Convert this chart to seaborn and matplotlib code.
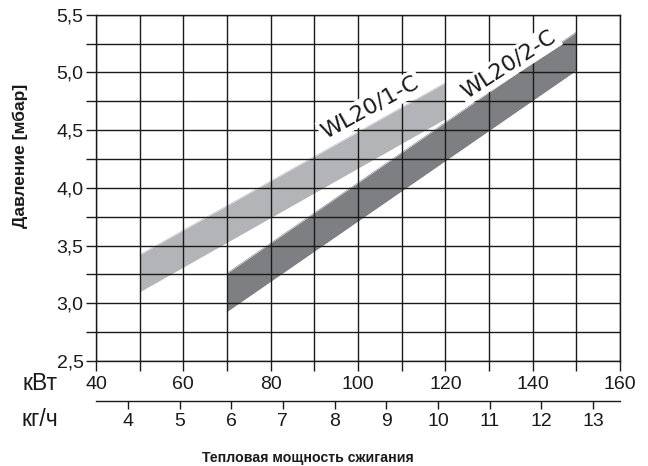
import matplotlib
matplotlib.use("Agg")
import matplotlib.pyplot as plt
import seaborn as sns
import numpy as np
import pandas as pd

# ---- data ----
kw_1 = [50, 120]
low_1 = [3.10, 4.60]
high_1 = [3.42, 4.91]
name_1 = "WL20/1-C"

kw_2 = [70, 150]
low_2 = [2.93, 5.02]
high_2 = [3.26, 5.35]
name_2 = "WL20/2-C"

kw_ticks = [40, 60, 80, 100, 120, 140, 160]
kw_minor = [50, 70, 90, 110, 130, 150]
kg_ticks = [4, 5, 6, 7, 8, 9, 10, 11, 12, 13]
kw_per_kg = 11.83
p_ticks = [2.5, 3.0, 3.5, 4.0, 4.5, 5.0, 5.5]
p_labels = ["2,5", "3,0", "3,5", "4,0", "4,5", "5,0", "5,5"]
p_minor = [2.75, 3.25, 3.75, 4.25, 4.75, 5.25]

light = "#b3b4b7"
dark = "#7e7f82"
ink = "#1a1a1a"

sns.set_theme(style="white")
plt.rcParams["font.family"] = ["Liberation Sans", "DejaVu Sans"]

fig = plt.figure(figsize=(6.48, 4.66), dpi=100)
ax = fig.add_axes([96 / 648, 1 - 361 / 466, 524 / 648, 346.3 / 466])

df1 = pd.DataFrame({"kw": kw_1, "low": low_1, "high": high_1})
df2 = pd.DataFrame({"kw": kw_2, "low": low_2, "high": high_2})

for df, col in [(df1, light), (df2, dark)]:
    ax.fill_between(df["kw"], df["low"], df["high"], color=col, lw=0, zorder=1)
    sns.lineplot(data=df, x="kw", y="low", ax=ax, color=col, lw=0.4, zorder=1)
    sns.lineplot(data=df, x="kw", y="high", ax=ax, color=col, lw=0.4, zorder=1)

ax.set_xlim(40, 160)
ax.set_ylim(2.5, 5.5)
ax.set_xticks(kw_ticks)
ax.set_xticks(kw_minor, minor=True)
ax.set_yticks(p_ticks)
ax.set_yticklabels(p_labels)
ax.set_yticks(p_minor, minor=True)
ax.set_xlabel("")
ax.set_ylabel("")

ax.set_axisbelow(False)
ax.grid(which="both", color=ink, lw=1.0)
for s in ax.spines.values():
    s.set_visible(True)
    s.set_color(ink)
    s.set_linewidth(1.0)

ax.tick_params(which="both", direction="out", length=7, width=1.0, color=ink,
               bottom=True, left=True, labelsize=14, labelcolor=ink)
ax.tick_params(axis="x", pad=4)
ax.tick_params(axis="y", pad=2)

sec = ax.secondary_xaxis(-0.1146, functions=(lambda x: x / kw_per_kg, lambda x: x * kw_per_kg))
sec.set_xticks(kg_ticks)
sec.tick_params(direction="out", length=6, width=1.0, color=ink, labelsize=14,
                labelcolor=ink, pad=3)
sec.spines["bottom"].set_color(ink)
sec.spines["bottom"].set_linewidth(1.0)

# band labels
def place(text, x, y, rot):
    ax.text(x, y, text, rotation=rot, rotation_mode="anchor", ha="center", va="center",
            fontsize=16, family=["DejaVu Sans"], fontweight="normal", fontstyle="normal",
            color=ink, zorder=4,
            bbox=dict(facecolor="white", edgecolor="none", pad=2.0))

place(name_1, 102.8, 4.70, 29)
place(name_2, 134.5, 5.07, 33)

fig.text(40 / 648, 1 - 383 / 466, "кВт", ha="center", va="center", fontsize=16.5, color=ink)
fig.text(40 / 648, 1 - 419 / 466, "кг/ч", ha="center", va="center", fontsize=16.5, color=ink)
fig.text(308 / 648, 1 - 458 / 466, "Тепловая мощность сжигания", ha="center", va="center",
         fontsize=10.2, fontweight="bold", color=ink)
fig.text(20 / 648, 1 - 156 / 466, "Давление [мбар]", ha="center", va="center", rotation=90,
         fontsize=12.5, fontweight="bold", color=ink)

fig.savefig("out.png", dpi=100, facecolor="white")
